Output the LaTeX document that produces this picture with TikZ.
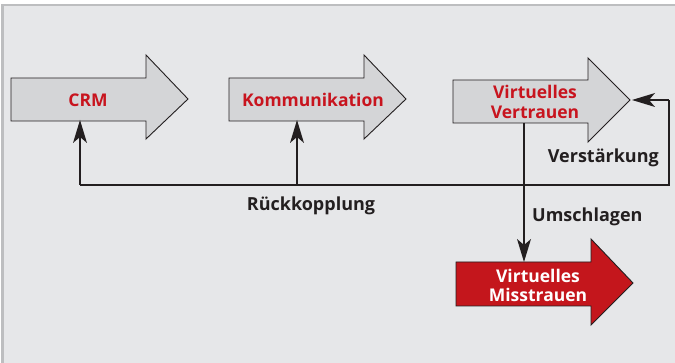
\documentclass[tikz,border=0pt]{standalone}
\usepackage{fontspec}
\setmainfont{Open Sans}
\usetikzlibrary{arrows.meta,calc}
\definecolor{bg}{HTML}{E6E7E9}
\definecolor{frame}{HTML}{BDBEC0}
\definecolor{arrowgray}{HTML}{D4D5D7}
\definecolor{txtred}{HTML}{C8141E}
\definecolor{fillred}{HTML}{C4161C}
\definecolor{ink}{HTML}{231F20}
\begin{document}
\begin{tikzpicture}[x=1pt,y=-1pt,
  bigarrow/.style={draw=ink,line width=0.9pt,fill=arrowgray},
  redarrow/.style={draw=ink,line width=0.9pt,fill=fillred},
  lbl/.style={font=\fontsize{18}{21}\selectfont\bfseries,text=ink,inner sep=0pt},
  rlbl/.style={font=\fontsize{17.5}{20}\selectfont\bfseries,text=txtred,inner sep=0pt,align=center},
  wlbl/.style={font=\fontsize{17.5}{19}\selectfont\bfseries,text=white,inner sep=0pt,align=center},
  conn/.style={draw=ink,line width=2.2pt},
  headfill/.style={fill=ink},
  line/.style={draw=ink,line width=2.2pt}]
\useasboundingbox (0,0) rectangle (675,363);
\fill[white] (0,0) rectangle (675,363);
\fill[bg] (1,4) rectangle (675,363);
\fill[frame] (1,4) rectangle (675,6.5);
\fill[frame] (1,4) rectangle (4,363);
% block arrows
\draw[bigarrow] (11,78) -- (146,78) -- (146,55) -- (188,99) -- (146,139) -- (146,121) -- (11,121) -- cycle;
\draw[bigarrow] (229,78) -- (364,78) -- (364,55) -- (406,99) -- (364,139) -- (364,121) -- (229,121) -- cycle;
\draw[bigarrow] (453,80) -- (588,80) -- (588,58) -- (630,100) -- (588,142) -- (588,123) -- (453,123) -- cycle;
\draw[redarrow] (456,262) -- (591,262) -- (591,239) -- (633,283) -- (591,325) -- (591,306) -- (456,306) -- cycle;
\node[rlbl] (crm) at (88,100) {CRM};
\node[rlbl] (kom) at (313,100) {Kommunikation};
\node[rlbl] (vv) at (535,102) {Virtuelles\\Vertrauen};
\node[wlbl] (vm) at (538,285) {Virtuelles\\Misstrauen};
\coordinate (crmb) at (80,120);
\coordinate (komb) at (297,120);
\coordinate (vvb) at (524,123);
\coordinate (vmt) at (524,262);
\coordinate (vvtip) at (632,100);
\coordinate (c1) at (80,185);
\coordinate (c2) at (297,185);
\coordinate (c3) at (669,185);
\coordinate (c4) at (669,100);
\draw[line] (c1) -- (c3) -- (c4);
\draw[conn] (c4) -- ($(vvtip)+(14,0)$);
\draw[conn] (c1) -- ($(crmb)+(0,14)$);
\draw[conn] (c2) -- ($(komb)+(0,14)$);
\draw[conn] (vvb) -- ($(vmt)+(0,-14)$);
% arrow heads (stealth shape)
\fill[headfill] (crmb) -- ++(-7,23) -- ++(7,-6) -- ++(7,6) -- cycle;
\fill[headfill] (komb) -- ++(-7,23) -- ++(7,-6) -- ++(7,6) -- cycle;
\fill[headfill] (vmt) -- ++(-7,-23) -- ++(7,6) -- ++(7,-6) -- cycle;
\fill[headfill] (vvtip) -- ++(23,-7) -- ++(-6,7) -- ++(6,7) -- cycle;
\node[lbl] (rk) at (311,206) {Rückkopplung};
\node[lbl,anchor=west] (um) at (532,217) {Umschlagen};
\node[lbl,anchor=east] (vs) at (659,158) {Verstärkung};
\end{tikzpicture}
\end{document}
